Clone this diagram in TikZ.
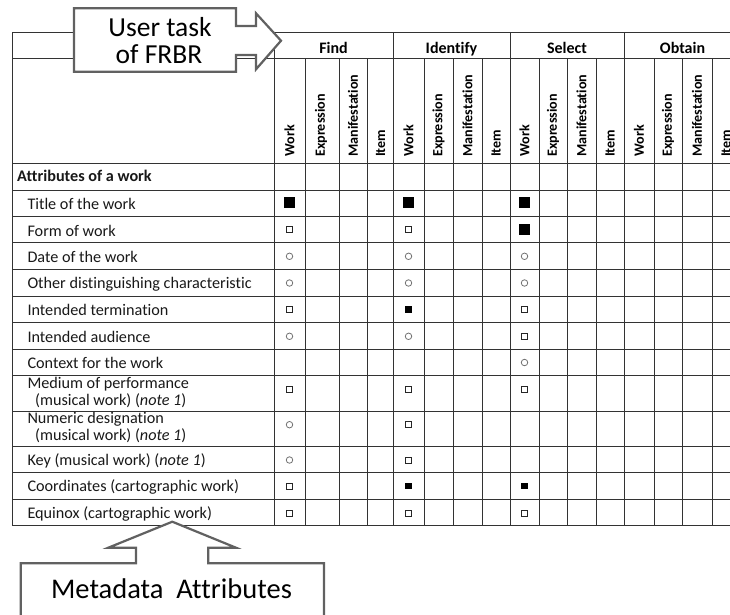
\documentclass[tikz,border=0pt]{standalone}
\usepackage{fontspec}
\setmainfont{Carlito}[Ligatures=CommonOff]
\begin{document}
\begin{tikzpicture}[x=1pt,y=-1pt,
  grid/.style={draw=black!80,line width=0.9pt},
  callout/.style={draw=black!62,line width=2.2pt,fill=white,line join=miter},
  rowlabel/.style={anchor=base west,inner sep=0pt,text=black!90,font=\fontsize{16.2}{18}\selectfont},
  grouphead/.style={anchor=base,inner sep=0pt,font=\fontsize{16}{18}\selectfont\bfseries},
  colhead/.style={rotate=90,anchor=west,inner sep=0pt,font=\fontsize{14.1}{16}\selectfont\bfseries},
  bigsq/.style={rectangle,fill=black,minimum width=11.5pt,minimum height=10.5pt,inner sep=0pt},
  opensq/.style={rectangle,draw=black!85,line width=1pt,fill=white,minimum width=6.5pt,minimum height=6pt,inner sep=0pt},
  smallsq/.style={rectangle,fill=black,minimum width=6.5pt,minimum height=6.5pt,inner sep=0pt},
  ring/.style={circle,draw=black!55,line width=0.8pt,minimum size=6.5pt,inner sep=0pt},
  calloutText/.style={align=center,inner sep=0pt,font=\fontsize{27.5}{27}\selectfont}
]
\clip (0,0) rectangle (730,614);
\fill[white] (0,0) rectangle (730,614);

% ---- horizontal rules of the grid
\foreach \y in {32.7,58.3,163.3,190,216.7,242.7,269.3,296,322.7,349,375,411,446.7,472.7,499.3,525.3}
  \draw[grid] (12,\y) -- (731,\y);
% ---- left border and group borders (full height)
\foreach \x in {12,274,393,510,624}
  \draw[grid] (\x,32.7) -- (\x,525.3);
% ---- sub-column borders (below the group row)
\foreach \x in {305,339,367,424,453,482,539,567,596,654,682,712}
  \draw[grid] (\x,58.3) -- (\x,525.3);

% ---- group headings
\node[grouphead] (gFind) at (333.5,53) {Find};
\node[grouphead] (gIdentify) at (451.5,53) {Identify};
\node[grouphead] (gSelect) at (567,53) {Select};
\node[grouphead] (gObtain) at (682.5,53) {Obtain};

% ---- rotated column headings
\foreach \g/\a/\b/\c/\d in {F/289.5/321/353/380.5, I/408.5/438.5/467.5/496, S/524.5/553/581.5/610, O/639/668/697/726}{
  \node[colhead] (\g w) at (\a,157) {Work};
  \node[colhead] (\g e) at (\b,157) {Expression};
  \node[colhead] (\g m) at (\c,157) {Manifestation};
  \node[colhead] (\g i) at (\d,157) {Item};
}

% ---- row labels
\node[rowlabel,font=\fontsize{16.2}{18}\selectfont\bfseries] (hAttr) at (17,181.7) {Attributes of a work};
\node[rowlabel] (lTitle) at (27.3,209.3) {Title of the work};
\node[rowlabel] (lForm) at (27.3,236) {Form of work};
\node[rowlabel] (lDate) at (27.3,262) {Date of the work};
\node[rowlabel] (lOther) at (27.3,288.6) {Other distinguishing characteristic};
\node[rowlabel] (lTerm) at (27.3,315.3) {Intended termination};
\node[rowlabel] (lAud) at (27.3,342) {Intended audience};
\node[rowlabel] (lCtx) at (27.3,368.3) {Context for the work};
\node[rowlabel] (lMed) at (27.3,388) {Medium of performance};
\node[rowlabel] (lMedB) at (35,405.3) {(musical work) (\textit{note 1})};
\node[rowlabel] (lNum) at (27.3,423.5) {Numeric designation};
\node[rowlabel] (lNumB) at (35,440.8) {(musical work) (\textit{note 1})};
\node[rowlabel] (lKey) at (27.3,465.3) {Key (musical work) (\textit{note 1})};
\node[rowlabel] (lCoord) at (27.3,491.7) {Coordinates (cartographic work)};
\node[rowlabel] (lEqui) at (27.3,518.3) {Equinox (cartographic work)};

% ---- marks in the Work columns of Find, Identify and Select
\foreach \n/\y/\s/\t/\u in {
  Title/202.6/bigsq/bigsq/bigsq,
  Form/229.7/opensq/opensq/bigsq,
  Date/256.3/ring/ring/ring,
  Other/283/ring/ring/ring,
  Term/309.5/opensq/smallsq/opensq,
  Aud/336.3/ring/ring/opensq,
  Med/389/opensq/opensq/opensq,
  Num/424.7/ring/opensq/,
  Key/460/ring/opensq/,
  Coord/486/opensq/smallsq/smallsq,
  Equi/513/opensq/opensq/opensq}{
  \node[\s] (m\n F) at (289.5,\y) {};
  \node[\t] (m\n I) at (408.5,\y) {};
  \if\relax\detokenize{\u}\relax\else\node[\u] (m\n S) at (524.5,\y) {};\fi
}
\node[ring] (mCtxS) at (524.5,362.5) {};

% ---- callout arrow pointing at the user-task header
\draw[callout] (74,8.3) -- (236,8.3) -- (236,26) -- (256,26) -- (256,13.3)
  -- (281,40.7) -- (256,69.3) -- (256,55) -- (236,55) -- (236,71.7)
  -- (74,71.7) -- cycle;
\node[calloutText,anchor=base] (task1) at (160,36) {User task};
\node[calloutText,anchor=base] (task2) at (159,63.3) {of FRBR};

% ---- callout arrow pointing up at the attribute labels
\draw[callout] (20.7,563.3) -- (136,563.3) -- (136,547.7) -- (108.3,547.7)
  -- (172.3,521.7) -- (236,547.7) -- (208.3,547.7) -- (208.3,563.3)
  -- (324,563.3) -- (324,640) -- (20.7,640) -- cycle;
\node[calloutText,anchor=base,font=\fontsize{28.5}{28}\selectfont] (meta) at (171.5,598.3) {Metadata\ \ Attributes};
\end{tikzpicture}
\end{document}
